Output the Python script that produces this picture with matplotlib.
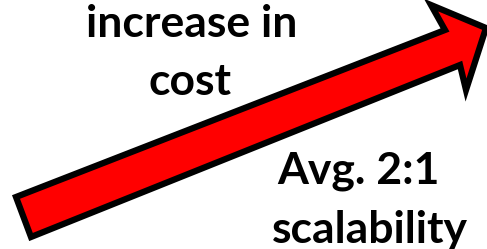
import matplotlib.pyplot as plt
from matplotlib.patches import Polygon

# arrow outline, in picture pixels (x right, y down)
arrow_x = [16, 445, 431, 486, 466, 460, 31]
arrow_y = [197, 30, 5, 28, 90, 65, 237]

# labels
top_lines = ['increase in', 'cost']
top_x = [192, 190]
top_y = [37, 95]
bottom_lines = ['Avg. 2:1', 'scalability']
bottom_x = [358, 370]
bottom_y = [183, 243]

fig = plt.figure(figsize=(4.87, 2.49), dpi=100)
ax = fig.add_axes([0, 0, 1, 1])
ax.set_xlim(0, 487)
ax.set_ylim(249, 0)
ax.axis('off')

ax.add_patch(Polygon(list(zip(arrow_x, arrow_y)), closed=True,
                     facecolor='#ff0000', edgecolor='black', linewidth=4.5,
                     joinstyle='miter'))

for s, x, y in zip(top_lines + bottom_lines, top_x + bottom_x, top_y + bottom_y):
    ax.text(x, y, s, ha='center', va='baseline', fontsize=32,
            fontweight='bold', family='Lato', color='black')

fig.savefig('out.png', dpi=100)
